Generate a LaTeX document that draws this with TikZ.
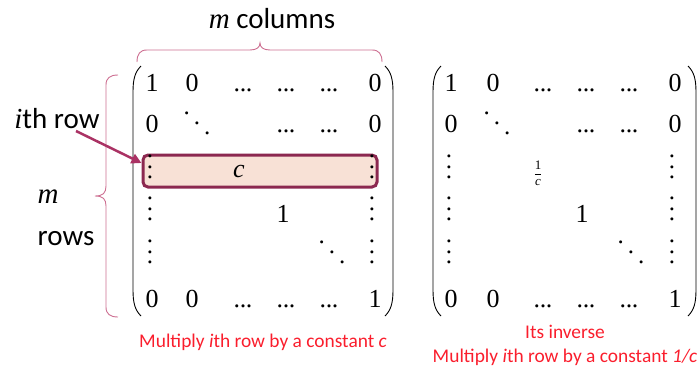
\documentclass[tikz,border=0pt]{standalone}
\usepackage{fontspec}
\setmainfont{Liberation Serif}
\newfontfamily\labfont{Carlito}
\usetikzlibrary{arrows.meta}
\definecolor{bracecol}{RGB}{205,110,145}
\definecolor{arrowcol}{RGB}{170,50,100}
\definecolor{boxline}{RGB}{140,40,80}
\definecolor{boxfill}{RGB}{248,225,214}
\definecolor{capred}{RGB}{250,30,45}
\newcommand\myvd{\vbox{\baselineskip=10.5pt\lineskiplimit=-100pt\hbox{.}\hbox{.}\hbox{.}}}
\newcommand\mydd{\hbox{\raisebox{20pt}{.}\kern4pt\raisebox{10pt}{.}\kern4pt.}}
\newcommand\mydots{.\kern-0.3pt.\kern-0.3pt.}
\begin{document}
\begin{tikzpicture}[x=1pt,y=-1pt,
  ent/.style={font=\rmfamily\fontsize{26}{28}\selectfont, inner sep=0pt, anchor=base},
  dotsv/.style={font=\rmfamily\fontsize{25}{28}\selectfont, inner sep=0pt},
  lab/.style={font=\labfont\fontsize{29}{32}\selectfont, inner sep=0pt, anchor=base},
  captext/.style={font=\labfont\fontsize{19.4}{22}\selectfont, text=capred, inner sep=0pt, anchor=base},
  paren/.style={draw=black, line width=0.9pt},
  bracep/.style={draw=bracecol, line width=0.9pt}]
\useasboundingbox (0,0) rectangle (699,373);

% highlight box
\node[draw=boxline, fill=boxfill, line width=3pt, rounded corners=5pt,
      minimum width=234pt, minimum height=32pt, inner sep=0pt] (box) at (260,171) {};

% ---------- left matrix ----------
\draw[paren] (141,66) .. controls (135,72) and (133,79) .. (133,92) -- (133,290) .. controls (133,303) and (135,310) .. (141,316);
\draw[paren] (385,66) .. controls (391,72) and (393,79) .. (393,92) -- (393,290) .. controls (393,303) and (391,310) .. (385,316);

\node[ent] (L11) at (152,91) {1};
\node[ent] (L12) at (192,91) {0};
\node[ent] (L13) at (243,91) {\mydots};
\node[ent] (L14) at (286,91) {\mydots};
\node[ent] (L15) at (329,91) {\mydots};
\node[ent] (L16) at (375,91) {0};

\node[ent] (L21) at (152,132) {0};
\node[dotsv] (L22) at (197,123) {\mydd};
\node[ent] (L24) at (286,132) {\mydots};
\node[ent] (L25) at (329,132) {\mydots};
\node[ent] (L26) at (375,132) {0};

\node[dotsv] (L31) at (150,167) {\myvd};
\node[ent] (L33) at (239,177) {\itshape c};
\node[dotsv] (L36) at (372,167) {\myvd};

\node[dotsv] (L41) at (150,209) {\myvd};
\node[ent] (L44) at (283,222) {1};
\node[dotsv] (L46) at (372,209) {\myvd};

\node[dotsv] (L51) at (150,252) {\myvd};
\node[dotsv] (L55) at (332,252) {\mydd};
\node[dotsv] (L56) at (372,252) {\myvd};

\node[ent] (L61) at (152,307) {0};
\node[ent] (L62) at (192,307) {0};
\node[ent] (L63) at (243,307) {\mydots};
\node[ent] (L64) at (286,307) {\mydots};
\node[ent] (L65) at (329,307) {\mydots};
\node[ent] (L66) at (375,307) {1};

% ---------- right matrix ----------
\draw[paren] (441,66) .. controls (435,72) and (433,79) .. (433,92) -- (433,290) .. controls (433,303) and (435,310) .. (441,316);
\draw[paren] (688,66) .. controls (694,72) and (696,79) .. (696,92) -- (696,290) .. controls (696,303) and (694,310) .. (688,316);

\node[ent] (R11) at (451,91) {1};
\node[ent] (R12) at (493,91) {0};
\node[ent] (R13) at (543,91) {\mydots};
\node[ent] (R14) at (586,91) {\mydots};
\node[ent] (R15) at (629,91) {\mydots};
\node[ent] (R16) at (675,91) {0};

\node[ent] (R21) at (451,132) {0};
\node[dotsv] (R22) at (497,123) {\mydd};
\node[ent] (R24) at (586,132) {\mydots};
\node[ent] (R25) at (629,132) {\mydots};
\node[ent] (R26) at (675,132) {0};

\node[dotsv] (R31) at (449,167) {\myvd};
\node[font=\rmfamily\fontsize{13}{14}\selectfont, inner sep=0pt] (R33) at (538,173) {$\displaystyle\frac{\mbox{1}}{\mbox{\itshape c}}$};
\node[dotsv] (R36) at (672,167) {\myvd};

\node[dotsv] (R41) at (449,209) {\myvd};
\node[ent] (R44) at (582,222) {1};
\node[dotsv] (R46) at (672,209) {\myvd};

\node[dotsv] (R51) at (449,252) {\myvd};
\node[dotsv] (R55) at (631,252) {\mydd};
\node[dotsv] (R56) at (672,252) {\myvd};

\node[ent] (R61) at (451,307) {0};
\node[ent] (R62) at (493,307) {0};
\node[ent] (R63) at (543,307) {\mydots};
\node[ent] (R64) at (586,307) {\mydots};
\node[ent] (R65) at (629,307) {\mydots};
\node[ent] (R66) at (675,307) {1};

% ---------- braces ----------
\draw[bracep] (137,62) .. controls (137,54) and (140,50) .. (147,50) -- (250,50) .. controls (257,50) and (260,47) .. (260,43) .. controls (260,47) and (263,50) .. (270,50) -- (372,50) .. controls (379,50) and (382,54) .. (382,62);
\draw[bracep] (118,75) .. controls (110,75) and (106,78) .. (106,85) -- (106,186) .. controls (106,193) and (103,196) .. (95,196) .. controls (103,196) and (106,199) .. (106,206) -- (106,307) .. controls (106,314) and (110,317) .. (118,317);

% ---------- labels ----------
\node[lab] (mcols) at (272,28) {{\rmfamily\itshape m} columns};
\node[lab] (ithrow) at (57,128) {{\rmfamily\itshape i}th row};
\node[lab] (mlab) at (48,203) {\rmfamily\itshape m};
\node[lab] (rows) at (66,245) {rows};

\coordinate (arrstart) at (76,131);
\draw[arrowcol, line width=2.5pt, -{Triangle[length=10pt,width=10pt]}] (arrstart) -- ([yshift=8pt]box.west);

% ---------- captions ----------
\node[captext] (capL) at (263,347) {Multiply \textit{i}th row by a constant \textit{c}};
\node[captext] (capR1) at (565,338) {Its inverse};
\node[captext] (capR2) at (565,362) {Multiply \textit{i}th row by a constant \textit{1/c}};
\end{tikzpicture}
\end{document}
